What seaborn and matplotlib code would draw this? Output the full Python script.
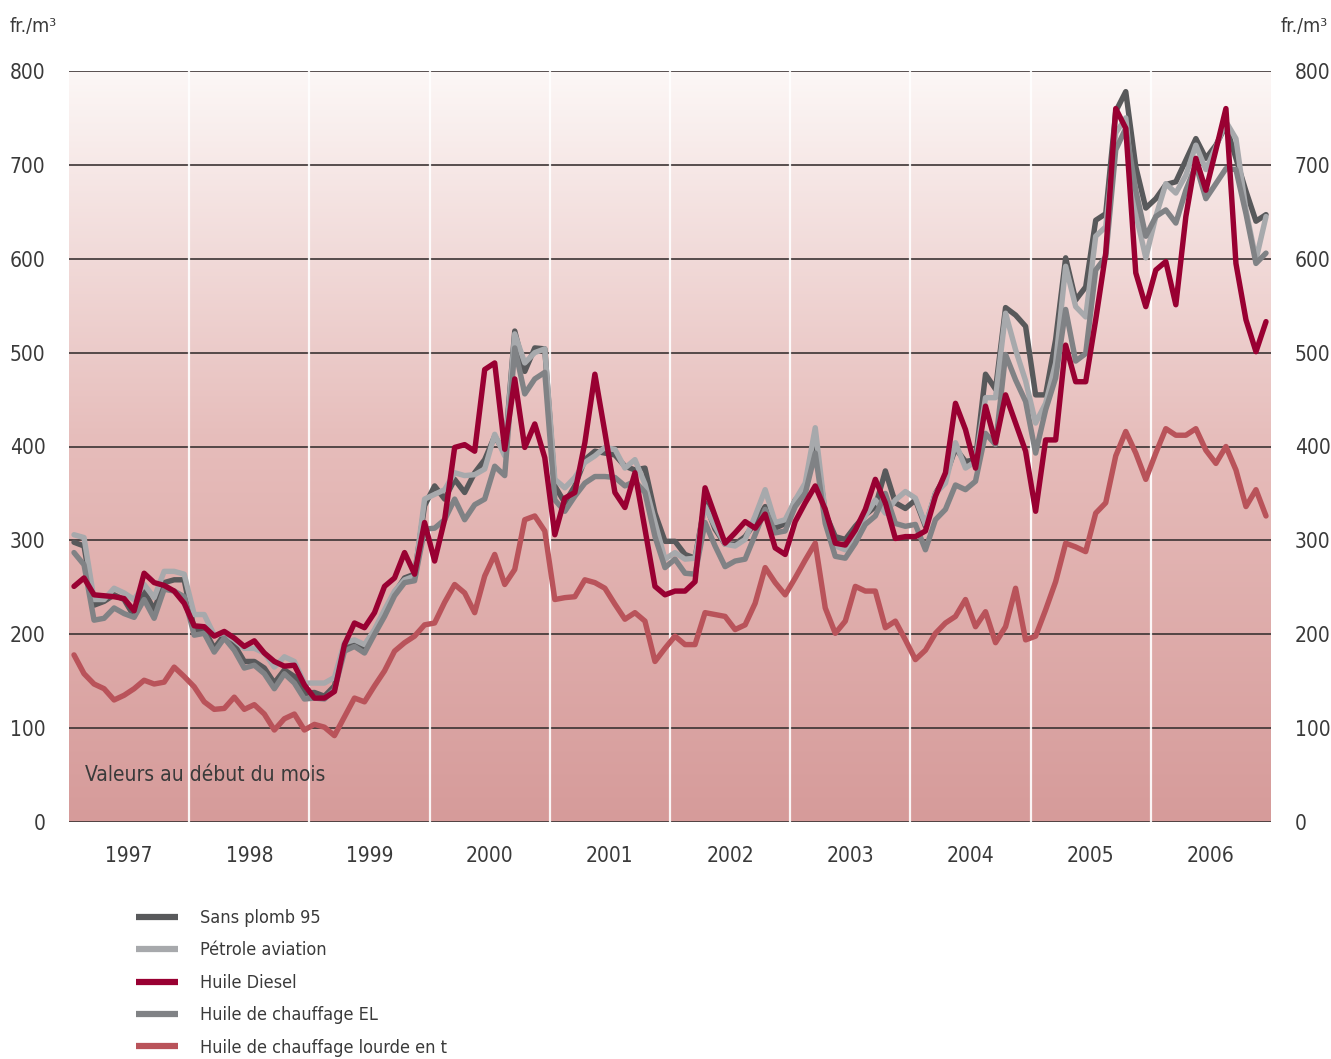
import numpy as np
import pandas as pd
import matplotlib
matplotlib.use("Agg")
import matplotlib.pyplot as plt
import seaborn as sns
from matplotlib.colors import LinearSegmentedColormap

# ---------------- data (fr./m3, monthly, Jan 1997 - Dec 2006) ----------------
years = ["1997", "1998", "1999", "2000", "2001", "2002", "2003", "2004", "2005", "2006"]

sans_plomb_95 = [
    298, 294, 231, 235, 242, 237, 219, 246, 226, 255, 258, 258,
    205, 205, 185, 199, 189, 171, 171, 164, 148, 162, 155, 137,
    138, 134, 145, 186, 193, 186, 203, 223, 244, 260, 264, 337,
    358, 344, 365, 351, 372, 386, 411, 393, 523, 480, 505, 504,
    358, 340, 358, 386, 395, 393, 391, 379, 375, 377, 329, 299,
    299, 285, 281, 340, 312, 296, 296, 304, 319, 336, 313, 318,
    343, 352, 405, 329, 304, 301, 315, 327, 336, 374, 340, 334,
    343, 315, 350, 368, 398, 384, 386, 477, 461, 548, 540, 528,
    455, 455, 514, 601, 556, 570, 641, 648, 757, 778, 698, 654,
    664, 679, 682, 705, 728, 707, 721, 742, 707, 672, 640, 647,
]
petrole_aviation = [
    306, 303, 237, 237, 249, 244, 237, 253, 239, 267, 267, 264,
    221, 221, 199, 201, 194, 185, 185, 180, 165, 176, 171, 148,
    148, 148, 154, 191, 194, 189, 205, 226, 246, 258, 262, 344,
    349, 354, 372, 369, 370, 376, 413, 390, 520, 489, 500, 504,
    365, 356, 367, 383, 390, 399, 397, 377, 386, 360, 319, 280,
    287, 280, 281, 336, 315, 296, 294, 301, 326, 354, 319, 322,
    343, 361, 420, 329, 294, 290, 308, 326, 343, 329, 343, 352,
    345, 317, 350, 361, 404, 377, 384, 452, 452, 542, 503, 470,
    425, 446, 489, 592, 549, 538, 624, 634, 734, 750, 648, 601,
    645, 680, 670, 689, 721, 695, 719, 746, 728, 652, 599, 645,
]
huile_diesel = [
    251, 260, 242, 241, 240, 238, 225, 265, 255, 252, 246, 233,
    209, 208, 198, 203, 196, 187, 193, 180, 171, 166, 167, 146,
    132, 132, 139, 189, 212, 207, 223, 251, 260, 287, 264, 319,
    278, 322, 399, 402, 395, 482, 489, 397, 472, 399, 424, 388,
    306, 345, 351, 404, 477, 415, 351, 335, 372, 312, 251, 242,
    246, 246, 256, 356, 326, 297, 308, 320, 313, 328, 292, 285,
    320, 340, 358, 333, 297, 295, 311, 333, 365, 340, 302, 304,
    304, 310, 347, 372, 446, 418, 377, 443, 404, 455, 425, 395,
    331, 407, 407, 508, 469, 469, 535, 606, 760, 739, 585, 549,
    588, 597, 551, 645, 707, 673, 716, 760, 595, 535, 501, 533,
]
chauffage_el = [
    287, 274, 215, 217, 228, 222, 218, 237, 217, 248, 246, 240,
    199, 201, 181, 196, 183, 164, 167, 158, 142, 158, 148, 131,
    132, 131, 141, 182, 187, 180, 200, 219, 241, 255, 257, 312,
    313, 322, 344, 322, 338, 344, 379, 369, 505, 456, 472, 479,
    343, 331, 347, 361, 368, 368, 367, 358, 363, 351, 304, 271,
    280, 265, 264, 319, 294, 272, 278, 280, 306, 333, 308, 310,
    336, 350, 393, 318, 283, 281, 297, 317, 326, 350, 318, 315,
    317, 290, 322, 333, 359, 354, 363, 414, 402, 498, 471, 448,
    393, 439, 473, 546, 491, 499, 588, 602, 716, 739, 673, 624,
    645, 652, 638, 673, 700, 664, 680, 696, 695, 648, 595, 606,
]
chauffage_lourde = [
    178, 158, 147, 142, 130, 135, 142, 151, 147, 149, 165, 155,
    144, 128, 120, 121, 133, 120, 125, 115, 98, 110, 115, 98,
    104, 101, 92, 112, 132, 128, 145, 161, 182, 191, 198, 210,
    212, 234, 253, 244, 223, 262, 285, 253, 269, 322, 326, 310,
    237, 239, 240, 258, 255, 249, 232, 216, 223, 214, 171, 185,
    198, 189, 189, 223, 221, 219, 205, 210, 233, 271, 255, 242,
    260, 279, 297, 228, 201, 214, 251, 246, 246, 207, 214, 194,
    173, 183, 201, 212, 219, 237, 208, 224, 191, 208, 249, 194,
    198, 226, 256, 297, 293, 288, 329, 340, 390, 416, 393, 365,
    393, 419, 412, 412, 419, 396, 382, 400, 375, 336, 354, 326,
]

series_names = ["Sans plomb 95", "Pétrole aviation", "Huile Diesel",
                "Huile de chauffage EL", "Huile de chauffage lourde en t"]
series_values = [sans_plomb_95, petrole_aviation, huile_diesel,
                 chauffage_el, chauffage_lourde]
y_ticks = [0, 100, 200, 300, 400, 500, 600, 700, 800]

colors = {
    "Sans plomb 95": "#58595b",
    "Pétrole aviation": "#a7a9ac",
    "Huile Diesel": "#990032",
    "Huile de chauffage EL": "#808285",
    "Huile de chauffage lourde en t": "#b9535a",
}

# long-form table
n_months = len(years) * 12
frames = []
for name, vals in zip(series_names, series_values):
    frames.append(pd.DataFrame({"mois": np.arange(n_months), "prix": vals, "serie": name}))
df = pd.concat(frames, ignore_index=True)

# ---------------- figure ----------------
sns.set_theme(style="white")
plt.rcParams["font.family"] = ["DejaVu Sans"]
plt.rcParams["font.stretch"] = "condensed"
txt = "#3a3a3a"

fig = plt.figure(figsize=(13.31, 10.59), dpi=100)
ax = fig.add_axes([69 / 1331, 1 - 822 / 1059, (1271 - 69) / 1331, (822 - 71) / 1059])

# background gradient
cmap = LinearSegmentedColormap.from_list("bg", ["#d69b9a", "#e6bcba", "#fcf7f6"])
grad = np.linspace(0, 1, 256).reshape(-1, 1)
ax.imshow(grad, extent=(-0.5, n_months - 0.5, 0, 800), origin="lower",
          aspect="auto", cmap=cmap, zorder=0)

# horizontal grid lines
for yv in y_ticks:
    ax.axhline(yv, color="#3b3333", lw=1.2, zorder=1)
# year separators
for k in range(1, len(years)):
    ax.axvline(12 * k - 0.5, color="white", lw=1.6, alpha=0.9, zorder=1)

sns.lineplot(data=df, x="mois", y="prix", hue="serie", hue_order=series_names,
             palette=colors, linewidth=3.9, ax=ax, legend=True, zorder=3)
data_lines = [l for l in ax.get_lines() if len(l.get_xdata()) == n_months]
for line, name in zip(data_lines, series_names):
    if name == "Huile Diesel":
        line.set_zorder(5)

handles, labels = ax.get_legend_handles_labels()
ax.get_legend().remove()

ax.set_xlim(-0.5, n_months - 0.5)
ax.set_ylim(0, 800)
ax.set_xticks([12 * k + 5.5 for k in range(len(years))])
ax.set_xticklabels(years)
ax.set_yticks(y_ticks)
ax.set_yticklabels([str(v) for v in y_ticks])
ax.tick_params(axis="x", length=0, pad=17, labelsize=15, colors=txt)
ax.tick_params(axis="y", length=0, pad=17, labelsize=15, colors=txt,
               labelleft=True, labelright=True)
ax.set_xlabel("")
ax.set_ylabel("")
for s in ax.spines.values():
    s.set_visible(False)

fig.text(10 / 1331, 1 - 26 / 1059, "fr./m³", fontsize=14, color=txt, va="center", ha="left")
fig.text(1328 / 1331, 1 - 26 / 1059, "fr./m³", fontsize=14, color=txt, va="center", ha="right")
ax.text(1.1, 50, "Valeurs au début du mois", fontsize=15, color=txt, va="center", ha="left", zorder=6)

leg = fig.legend(handles, labels, loc="upper left",
                 bbox_to_anchor=(136 / 1331, 1 - 909 / 1059), frameon=False,
                 borderpad=0, borderaxespad=0,
                 fontsize=13, handlelength=2.33, handletextpad=1.22, labelspacing=0.8,
                 labelcolor=txt)
for h in leg.get_lines():
    h.set_linewidth(4.5)
    h.set_solid_capstyle("butt")

fig.savefig("out.png", dpi=100)
